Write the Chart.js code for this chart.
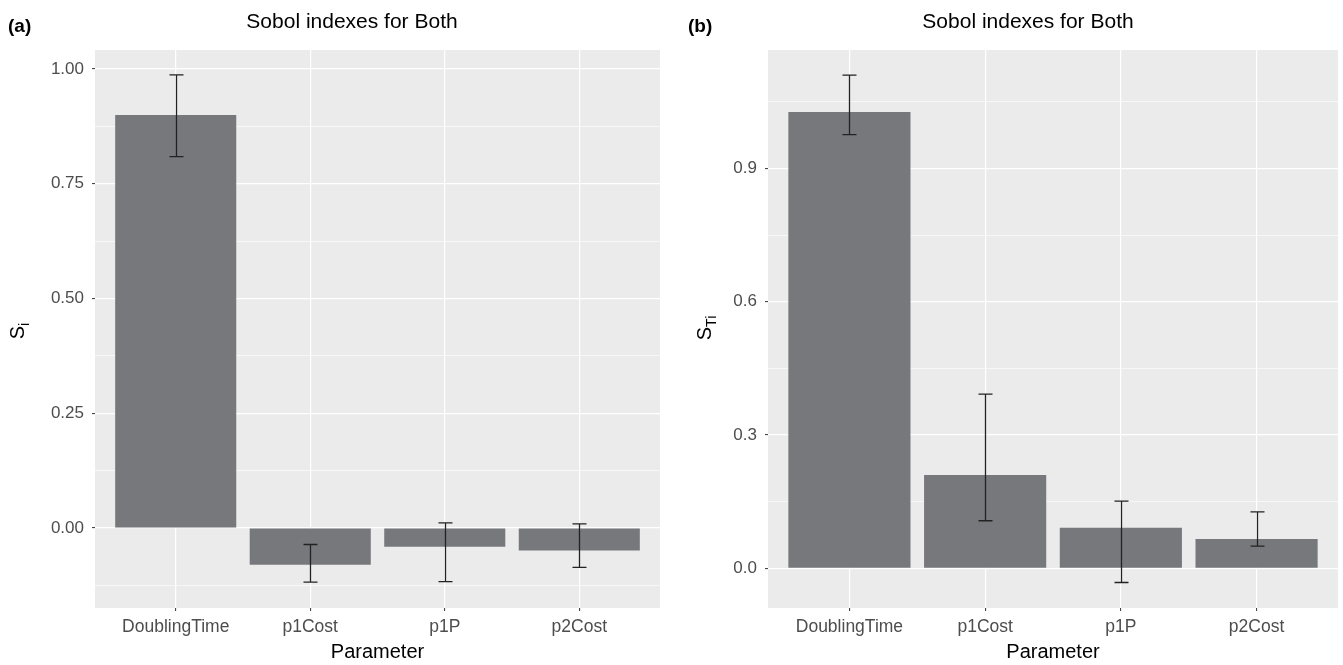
<!DOCTYPE html>
<html><head><meta charset="utf-8">
<script src="https://cdn.jsdelivr.net/npm/chart.js@4/dist/chart.umd.min.js"></script>
<style>
html,body{margin:0;padding:0;background:#fff;width:1343px;height:665px;overflow:hidden;font-family:"Liberation Sans",Arial,sans-serif}
#wa{position:absolute;left:0;top:0;width:672px;height:665px}
#wb{position:absolute;left:672px;top:0;width:671px;height:665px}
.tag{position:absolute;font-weight:bold;font-size:19px;color:#000;line-height:1}
.ytitle{position:absolute;font-size:20px;color:#000;transform:translate(-50%,-50%) rotate(-90deg);white-space:nowrap;line-height:1}
.ytitle sub{font-size:14px}
</style></head><body>
<div id="wa"><canvas id="ca" width="672" height="665"></canvas></div>
<div id="wb"><canvas id="cb" width="671" height="665"></canvas></div>
<div class="tag" style="left:8px;top:16px">(a)</div>
<div class="tag" style="left:688px;top:16px">(b)</div>
<div class="ytitle" style="left:19px;top:331px">S<sub>i</sub></div>
<div class="ytitle" style="left:706px;top:328px">S<sub>Ti</sub></div>
<script>
// ---- data ----
const categories = ['DoublingTime', 'p1Cost', 'p1P', 'p2Cost'];
const siValues = [0.900, -0.080, -0.041, -0.049];
const siLow    = [0.809, -0.118, -0.117, -0.086];
const siHigh   = [0.987, -0.036, 0.011, 0.009];
const siMajorTicks = [0, 0.25, 0.5, 0.75, 1.0];
const siMinorTicks = [-0.125, 0.125, 0.375, 0.625, 0.875];
const stiValues = [1.027, 0.210, 0.091, 0.066];
const stiLow    = [0.976, 0.107, -0.032, 0.050];
const stiHigh   = [1.110, 0.392, 0.151, 0.127];
const stiMajorTicks = [0, 0.3, 0.6, 0.9];
const stiMinorTicks = [0.15, 0.45, 0.75, 1.05];
const titleText = 'Sobol indexes for Both';
const xTitle = 'Parameter';

const FONT = '"Liberation Sans", Arial, sans-serif';

const panelBg = {
  id: 'panelBg',
  beforeDraw(chart) {
    const {ctx, chartArea: a} = chart;
    ctx.save();
    ctx.fillStyle = '#EBEBEB';
    ctx.fillRect(a.left, a.top, a.right - a.left, a.bottom - a.top);
    ctx.restore();
  }
};

function makeErr(low, high) {
  return {
    id: 'errBars',
    afterDatasetsDraw(chart) {
      const meta = chart.getDatasetMeta(0);
      const ys = chart.scales.y;
      const ctx = chart.ctx;
      const cap = 7;
      ctx.save();
      ctx.strokeStyle = '#222222';
      ctx.lineWidth = 1.3;
      meta.data.forEach((bar, i) => {
        const x = Math.round(bar.x) + 0.5;
        const yl = ys.getPixelForValue(low[i]);
        const yh = ys.getPixelForValue(high[i]);
        ctx.beginPath();
        ctx.moveTo(x, yl); ctx.lineTo(x, yh);
        ctx.moveTo(x - cap, yl); ctx.lineTo(x + cap, yl);
        ctx.moveTo(x - cap, yh); ctx.lineTo(x + cap, yh);
        ctx.stroke();
      });
      ctx.restore();
    }
  };
}

function build(id, cfg) {
  const allTicks = cfg.majors.concat(cfg.minors).sort((a, b) => a - b);
  const isMajor = v => cfg.majors.some(m => Math.abs(m - v) < 1e-9);
  return new Chart(document.getElementById(id), {
    type: 'bar',
    data: {
      datasets: [{
        data: cfg.values.map((v, i) => ({x: i, y: v})),
        backgroundColor: '#77787B',
        borderWidth: 0,
        barPercentage: 0.9,
        categoryPercentage: 1
      }]
    },
    options: {
      responsive: false,
      animation: false,
      devicePixelRatio: 1,
      layout: {padding: {left: cfg.padL, right: cfg.padR, top: 0, bottom: 0}},
      plugins: {
        legend: {display: false},
        tooltip: {enabled: false},
        title: {
          display: true, text: titleText, color: '#000',
          font: {size: 21, family: FONT, weight: 'normal'},
          padding: {top: 10, bottom: 14.8}
        }
      },
      scales: {
        x: {
          type: 'linear', min: -0.6, max: 3.6, offset: false,
          afterBuildTicks: s => { s.ticks = categories.map((c, i) => ({value: i})); },
          afterFit: s => { s.height = 57; },
          ticks: {
            callback: v => categories[v],
            color: '#4D4D4D', font: {size: 17.5, family: FONT},
            padding: 6, maxRotation: 0, autoSkip: false
          },
          grid: {offset: false, color: '#FFFFFF', lineWidth: 1.2, drawTicks: true, tickLength: 3, tickColor: '#333333', tickWidth: 1},
          border: {display: false},
          title: {display: true, text: xTitle, color: '#000', font: {size: 20, family: FONT}, padding: {top: 4, bottom: 1}}
        },
        y: {
          type: 'linear', min: cfg.min, max: cfg.max, bounds: 'data',
          afterBuildTicks: s => { s.ticks = allTicks.map(v => ({value: v})); },
          afterFit: s => { s.width = cfg.yw; },
          ticks: {
            callback: v => isMajor(v) ? v.toFixed(cfg.dec) : '',
            color: '#4D4D4D', font: {size: 17, family: FONT},
            padding: 8, autoSkip: false
          },
          grid: {
            color: '#FFFFFF',
            lineWidth: c => (c.tick && isMajor(c.tick.value)) ? 1.2 : 0.6,
            drawTicks: true, tickLength: 3,
            tickColor: c => (c.tick && isMajor(c.tick.value)) ? '#333333' : 'rgba(0,0,0,0)',
            tickWidth: 1
          },
          border: {display: false}
        }
      }
    },
    plugins: [panelBg, makeErr(cfg.low, cfg.high)]
  });
}

build('ca', {values: siValues, low: siLow, high: siHigh, majors: siMajorTicks, minors: siMinorTicks,
  min: -0.1743, max: 1.0414, dec: 2, padL: 44, padR: 12, yw: 51});
build('cb', {values: stiValues, low: stiLow, high: stiHigh, majors: stiMajorTicks, minors: stiMinorTicks,
  min: -0.0894, max: 1.1666, dec: 1, padL: 46, padR: 5, yw: 50});
</script>
</body></html>
